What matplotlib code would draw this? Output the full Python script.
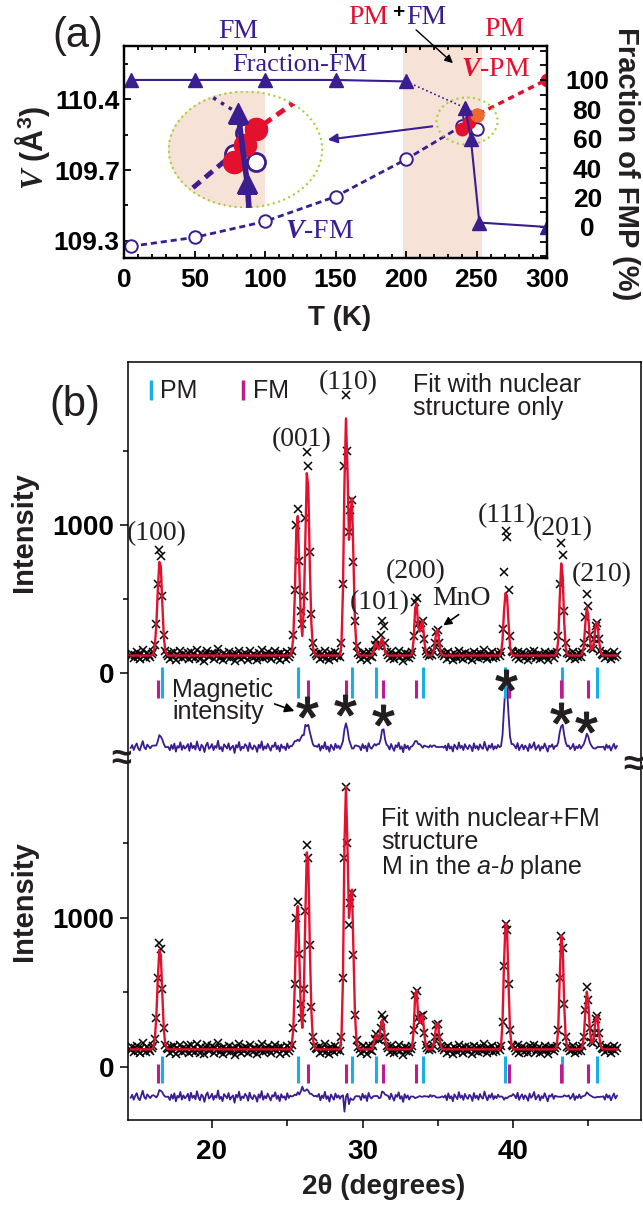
import numpy as np
import matplotlib
matplotlib.use('Agg')
import matplotlib.pyplot as plt
from matplotlib.patches import Ellipse
from matplotlib.lines import Line2D
from matplotlib.ticker import FixedLocator, MultipleLocator

plt.rcParams['font.family'] = ['Liberation Sans', 'DejaVu Sans']
plt.rcParams['mathtext.fontset'] = 'custom'
plt.rcParams['mathtext.rm'] = 'Liberation Sans'
plt.rcParams['mathtext.it'] = 'Liberation Serif:italic:bold'
plt.rcParams['mathtext.bf'] = 'Liberation Sans:bold'
plt.rcParams['mathtext.sf'] = 'Liberation Sans:italic'

# ---------------- panel (a) data ----------------
T_fm = [5, 50, 100, 150, 200, 240, 245, 250]
V_fm = [109.27, 109.32, 109.41, 109.55, 109.76, 109.95, 110.00, 109.93]
T_pm = [240, 245, 250, 300]
V_pm = [109.93, 109.97, 110.01, 110.21]
T_frac = [5, 50, 100, 150, 200, 242, 246, 252, 300]
frac_fm = [100, 100, 100, 100, 99, 81, 60, 3, 0]
band_T = (198, 254)
T_ticks = [0, 50, 100, 150, 200, 250, 300]
V_ticks = [109.3, 109.7, 110.1]
V_ticklabels = ['109.3', '109.7', '110.4']
V_minor = [109.5, 109.9, 110.3]
frac_ticks = [0, 20, 40, 60, 80, 100]

# ---------------- panel (b) data ----------------
tt_start, tt_step = 14.6, 0.1
obs_counts = [
    # 14.6-15.9
    112, 131, 98, 124, 142, 108, 95, 127, 158, 116, 103, 134, 121, 109,
    # 16.0-17.0  (100)
    125, 140, 190, 330, 600, 830, 790, 520, 260, 150, 125,
    # 17.1-25.1
    118, 96, 132, 105, 141, 87, 124, 113, 150, 99,
    128, 107, 119, 138, 92, 145, 110, 126, 101, 155,
    115, 94, 133, 121, 84, 129, 147, 106, 117, 138,
    97, 125, 112, 160, 103, 118, 89, 136, 122, 108,
    143, 99, 116, 127, 78, 131, 114, 152, 95, 120,
    109, 137, 124, 91, 146, 113, 102, 129, 118, 85,
    134, 111, 156, 98, 123, 107, 139, 116, 93, 128,
    119, 148, 104, 126, 88, 135, 112, 121, 97, 142,
    110,
    # 25.2-26.9  (001)
    125, 150, 260, 560, 1000, 1110, 760, 420, 330, 520, 1050, 1490, 1400, 820, 400, 200, 140, 125,
    # 27.0-28.5
    118, 137, 94, 126, 109, 151, 103, 122, 86, 133, 115, 98, 140, 112, 127, 105,
    # 28.6-29.7  (110)
    200, 600, 1400, 1880, 1500, 950, 1100, 1170, 750, 350, 180, 135,
    # 29.8-30.6
    121, 96, 138, 110, 127, 89, 144, 117, 106,
    # 30.7-31.6  (101)
    140, 190, 220, 190, 180, 260, 350, 320, 200, 140,
    # 31.7-33.2
    124, 101, 139, 113, 92, 130, 117, 148, 105, 122, 83, 135, 110, 127, 99, 119,
    # 33.3-35.3  (200), MnO
    140, 250, 480, 510, 330, 300, 340, 350, 230, 150, 125, 115, 130, 120, 150, 200, 280, 290, 200, 140, 125,
    # 35.4-39.1
    113, 128, 95, 141, 107, 122, 88, 134, 118, 102,
    149, 111, 126, 97, 137, 115, 104, 131, 120, 90,
    143, 109, 125, 99, 136, 114, 106, 153, 118, 94,
    129, 112, 140, 101, 123, 108, 132, 117,
    # 39.2-40.0  (111)
    140, 300, 680, 960, 920, 560, 250, 150, 140,
    # 40.1-42.8
    126, 108, 145, 97, 119, 134, 102, 128, 115, 91,
    139, 111, 124, 150, 100, 117, 131, 93, 122, 109,
    142, 114, 87, 127, 119, 136, 104, 125,
    # 42.9-43.6  (201)
    140, 250, 600, 880, 800, 420, 200, 135,
    # 43.7-44.5
    128, 104, 117, 139, 96, 122, 110, 133, 108,
    # 44.6-45.9  (210)
    140, 200, 380, 535, 450, 260, 170, 160, 230, 320, 340, 230, 150, 125,
    # 46.0-46.9
    121, 99, 135, 112, 127, 94, 118, 140, 106, 124,
]
calc_background = 118
# fitted profile around each peak group: start 2theta -> values
calc_nuclear = {
    16.1: [130, 180, 320, 560, 750, 720, 470, 240, 150, 125],
    25.3: [145, 240, 520, 960, 1060, 720, 360, 250, 440, 900, 1350, 1250, 720, 340, 180, 135],
    28.6: [190, 560, 1280, 1720, 1380, 900, 1080, 1180, 760, 340, 170, 130],
    30.7: [135, 170, 210, 170, 160, 210, 235, 200, 150, 125],
    33.3: [135, 230, 440, 470, 310, 280, 330, 355, 220, 145, 122, 118, 118, 120, 140, 190, 280, 290, 200, 140, 122],
    39.2: [135, 220, 420, 540, 520, 340, 180, 130, 120],
    42.9: [135, 220, 500, 740, 650, 340, 170, 130],
    44.6: [135, 180, 330, 445, 380, 230, 160, 165, 240, 330, 340, 230, 150, 125],
}
calc_nuclear_fm = {
    16.1: [130, 185, 335, 590, 785, 750, 490, 250, 150, 125],
    25.3: [148, 255, 545, 990, 1080, 745, 385, 262, 480, 1010, 1440, 1360, 800, 380, 190, 137],
    28.6: [195, 590, 1500, 1880, 1480, 1000, 1110, 1190, 770, 350, 175, 132],
    30.7: [138, 185, 215, 185, 190, 265, 315, 290, 185, 130],
    33.3: [138, 250, 490, 515, 330, 295, 340, 350, 225, 148, 122, 118, 118, 120, 142, 195, 285, 295, 205, 142, 122],
    39.2: [138, 300, 700, 965, 930, 560, 245, 145, 122],
    42.9: [138, 250, 600, 880, 800, 410, 195, 133],
    44.6: [138, 195, 370, 505, 430, 250, 165, 162, 235, 325, 340, 232, 150, 125],
}
pm_refl = [16.68, 25.71, 29.3, 30.9, 34.0, 39.47, 43.26, 45.6]
fm_refl = [16.4, 26.38, 28.9, 31.36, 33.55, 39.7, 43.2, 45.0]
diff_offset_up, diff_offset_lo = -500, -200
hkl_labels = ['(100)', '(001)', '(110)', '(101)', '(200)', '(111)', '(201)', '(210)']
hkl_pos = [(16.33, 939), (25.97, 1574), (29.03, 1959), (31.16, 473), (33.55, 682),
           (39.6, 1064), (43.3, 973), (45.9, 662)]
star_pos = [(26.3, -228), (28.84, -216), (31.36, -284), (39.55, -47), (43.2, -270), (44.85, -331)]

INDIGO = '#3a1d8e'
RED = '#e3102e'
ORANGE = '#ee6a2c'
BAND = '#f6e2d7'
LIME = '#a6cf3c'
CYAN = '#1aaee6'
MAGENTA = '#c01b8c'
TXT = '#231f20'

W, H = 643, 1205
fig = plt.figure(figsize=(W / 100, H / 100), dpi=100)


def box(l, t, r, b):
    return [l / W, 1 - b / H, (r - l) / W, (b - t) / H]


def fpos(px, py):
    return (px / W, 1 - py / H)


def ftext(px, py, s, **kw):
    kw.setdefault('ha', 'center')
    kw.setdefault('va', 'center')
    return fig.text(px / W, 1 - py / H, s, **kw)


def arrow(p_from, p_to, color, lw=1.3, ms=14):
    fig.add_artist(matplotlib.patches.FancyArrowPatch(
        fpos(*p_from), fpos(*p_to), transform=fig.transFigure,
        arrowstyle='-|>', mutation_scale=ms, color=color, lw=lw))


# ====================== (a) ======================
ax = fig.add_axes(box(124, 46, 547, 258))
ax.set_xlim(0, 300)
ax.set_ylim(109.204, 110.399)
ax.axvspan(*band_T, color=BAND, lw=0, zorder=0)
ax.plot(T_fm, V_fm, ls=(0, (2.2, 1.4)), color=INDIGO, lw=2, marker='o', ms=9,
        mfc='white', mec=INDIGO, mew=1.4, zorder=3)
ax.plot(T_pm, V_pm, ls=(0, (1.8, 1.4)), color=RED, lw=2.5, marker='o', ms=9,
        mfc=RED, mec=RED, zorder=4)
ax.plot(T_pm[2], V_pm[2], 'o', ms=9, color=ORANGE, zorder=5)
ax.add_patch(Ellipse((243.3, 109.976), 43.3, 0.265, fill=False, ec=LIME,
                     ls=':', lw=1.5, zorder=6))

ax2 = ax.twinx()
ax2.set_ylim(-21.1, 123.1)
ax2.plot(T_frac[:5], frac_fm[:5], '-', color=INDIGO, lw=1.5)
ax2.plot(T_frac[4:6], frac_fm[4:6], ':', color=INDIGO, lw=1.2)
ax2.plot(T_frac[5:], frac_fm[5:], '-', color=INDIGO, lw=1.5)
ax2.plot(T_frac, frac_fm, '^', ms=10, color=INDIGO, ls='none')

for a in (ax, ax2):
    for s in a.spines.values():
        s.set_linewidth(1.6)
ax.set_xticks(T_ticks, [str(t) for t in T_ticks], fontsize=19, fontweight='bold')
ax.xaxis.set_minor_locator(MultipleLocator(10))
ax.set_yticks(V_ticks, V_ticklabels, fontsize=19, fontweight='bold')
ax.yaxis.set_minor_locator(FixedLocator(V_minor))
ax.tick_params(which='both', direction='in', top=True, right=False, width=1.3)
ax.tick_params(which='major', length=5)
ax.tick_params(which='minor', length=3)
ax.tick_params(axis='x', pad=7)
ax.tick_params(axis='y', pad=3)
ax2.set_yticks(frac_ticks, [str(v) for v in frac_ticks], fontsize=19, fontweight='bold', ha='center')
ax2.yaxis.set_minor_locator(MultipleLocator(10))
ax2.tick_params(which='both', direction='in', width=1.3, pad=29)
ax2.tick_params(which='major', length=5)
ax2.tick_params(which='minor', length=5)

# magnified inset
axi = fig.add_axes(box(168, 91, 323, 208), zorder=5)
axi.set_xlim(211, 279.5)
axi.set_ylim(109.814, 110.106)
axi.axis('off')
v0, v1 = ax.get_ylim()
p0, p1 = ax2.get_ylim()
frac_as_V = [v0 + (p - p0) * (v1 - v0) / (p1 - p0) for p in frac_fm]
clip = Ellipse((0.5, 0.5), 1, 1, transform=axi.transAxes)
axi.add_patch(Ellipse((0.5, 0.5), 1, 1, transform=axi.transAxes, fc='white', ec='none'))
axi.axvspan(*band_T, color=BAND, lw=0)
axi.plot(T_frac[4:6], frac_as_V[4:6], ':', color=INDIGO, lw=2.5)
axi.plot(T_fm, V_fm, ls=(0, (2, 1.3)), color=INDIGO, lw=3.5, marker='o', ms=13,
         mfc='white', mec=INDIGO, mew=2)
axi.plot(T_pm, V_pm, ls=(0, (2, 1.3)), color=RED, lw=3.5, marker='o', ms=16,
         mfc=RED, mec=RED)
axi.plot(T_frac[5:], frac_as_V[5:], '-', color=INDIGO, lw=4)
axi.plot(T_frac, frac_as_V, '^', ms=15, color=INDIGO, ls='none')
for art in axi.lines + axi.patches:
    art.set_clip_path(clip)
axi.add_patch(Ellipse((0.5, 0.5), 0.99, 0.99, transform=axi.transAxes, fill=False,
                      ec=LIME, ls=':', lw=1.5))

arrow((435, 126), (325, 140), INDIGO, lw=1.5)
arrow((414, 28), (455, 65), 'black', lw=1.0, ms=12)

serif = ['Liberation Serif', 'DejaVu Serif']
ftext(78, 36, '(a)', fontsize=30, color=TXT)
ftext(238, 32, 'FM', family=serif, fontsize=20, color=INDIGO)
ftext(368, 17, 'PM', family=serif, fontsize=20, color=RED)
ftext(398, 12, '+', fontsize=15, color='black', fontweight='bold')
ftext(426, 17, 'FM', family=serif, fontsize=20, color=INDIGO)
ftext(504, 30, 'PM', family=serif, fontsize=20, color=RED)
ftext(300, 65, 'Fraction-FM', family=serif, fontsize=19, color=INDIGO)
ftext(496, 70, r'$\mathit{V}$-PM', family=serif, fontsize=20, color=RED)
ftext(320, 232, r'$\mathit{V}$-FM', family=serif, fontsize=20, color=INDIGO)
ftext(33, 148, r'$\mathit{V}$ (Å$^{\mathbf{3}}$)', rotation=90, fontsize=22, fontweight='bold', color=TXT)
ftext(626, 164, 'Fraction of FMP (%)', rotation=-90, fontsize=21, fontweight='bold', color=TXT)
ftext(340, 318, 'T (K)', fontsize=20, fontweight='bold', color=TXT)

# ====================== (b) ======================
tt = tt_start + tt_step * np.arange(len(obs_counts))
obs = np.array(obs_counts, dtype=float)


def profile(groups):
    arr = np.full(len(tt), float(calc_background))
    for t0, vals in groups.items():
        i = int(round((t0 - tt_start) / tt_step))
        arr[i:i + len(vals)] = vals
    return arr


calc_up = profile(calc_nuclear)
calc_lo = profile(calc_nuclear_fm)

ax_up = fig.add_axes(box(128, 362, 641, 763))
ax_lo = fig.add_axes(box(128, 763, 641, 1120))
ax_up.set_ylim(-608, 2101)
ax_lo.set_ylim(-356, 2040)

for a, calc, off, pm_rng, fm_rng in ((ax_up, calc_up, diff_offset_up, (40, -170), (-47, -170)),
                                     (ax_lo, calc_lo, diff_offset_lo, (74, -107), (20, -107))):
    a.set_xlim(14.42, 48.5)
    a.plot(tt, obs, 'x', color='black', ms=5.5, mew=1.1, zorder=2)
    a.plot(tt, calc, '-', color=RED, lw=1.7, zorder=3)
    a.plot(tt, obs - calc + off, '-', color=INDIGO, lw=1.3, zorder=3)
    a.vlines(pm_refl, pm_rng[1], pm_rng[0], color=CYAN, lw=2.2, zorder=4)
    a.vlines(fm_refl, fm_rng[1], fm_rng[0], color=MAGENTA, lw=2.2, zorder=4)
    a.set_yticks([0, 1000], ['0', '1000'], fontsize=20, fontweight='bold')
    a.yaxis.set_minor_locator(FixedLocator([500, 1500]))
    a.tick_params(axis='y', which='both', direction='out', width=1.1, pad=4)
    a.tick_params(axis='y', which='major', length=6)
    a.tick_params(axis='y', which='minor', length=3.5)
    for s in a.spines.values():
        s.set_linewidth(1.1)

ax_up.spines['bottom'].set_visible(False)
ax_up.tick_params(axis='x', which='both', bottom=False, labelbottom=False)
ax_lo.spines['top'].set_visible(False)
ax_lo.set_xticks([20, 30, 40], ['20', '30', '40'], fontsize=20, fontweight='bold')
ax_lo.xaxis.set_minor_locator(FixedLocator([25, 35, 45]))
ax_lo.tick_params(axis='x', which='both', direction='out', width=1.1, pad=8)
ax_lo.tick_params(axis='x', which='major', length=6)
ax_lo.tick_params(axis='x', which='minor', length=4)

for lab, (x, y) in zip(hkl_labels, hkl_pos):
    ax_up.text(x, y, lab, family=serif, fontsize=20, ha='center', va='center', color=TXT)
ax_up.text(36.55, 500, 'MnO', family=serif, fontsize=20, ha='center', va='center', color=TXT)
ax_up.plot([p[0] for p in star_pos], [p[1] for p in star_pos], ls='none',
           marker=r'$*$', ms=15, color=TXT, zorder=5)

leg = ax_up.legend([Line2D([], [], color=CYAN, marker='|', ls='none', ms=15, mew=2.5),
                    Line2D([], [], color=MAGENTA, marker='|', ls='none', ms=15, mew=2.5)],
                   ['PM', 'FM'], ncol=2, loc='upper left', frameon=False, fontsize=18,
                   handlelength=0.4, handletextpad=0.2, columnspacing=1.6,
                   borderaxespad=0.3)
for t in leg.get_texts():
    t.set_color(TXT)

ftext(413, 373, 'Fit with nuclear\nstructure only', fontsize=18, ha='left', va='top',
      color=TXT, linespacing=0.95)
ftext(381, 807, 'Fit with nuclear+FM\nstructure\nM in the $\\mathsf{a}$-$\\mathsf{b}$ plane',
      fontsize=18, ha='left', va='top', color=TXT, linespacing=0.95)
ftext(172, 678, 'Magnetic\nintensity', fontsize=18, ha='left', va='top', color=TXT,
      linespacing=0.9)
arrow((461, 613), (441, 627), 'black', lw=1.2, ms=12)
arrow((272, 703), (297, 712), 'black', lw=1.2, ms=14)

ftext(75, 405, '(b)', fontsize=30, color=TXT)
ftext(24, 532, 'Intensity', rotation=90, fontsize=21, fontweight='bold', color=TXT)
ftext(24, 901, 'Intensity', rotation=90, fontsize=21, fontweight='bold', color=TXT)
ftext(384, 1187, '2θ (degrees)', fontsize=20, fontweight='bold', color=TXT)
ftext(121, 760, '≈', fontsize=26, fontweight='bold', color=TXT)
ftext(633, 765, '≈', fontsize=26, fontweight='bold', color=TXT)

fig.savefig('out.png', dpi=100)
